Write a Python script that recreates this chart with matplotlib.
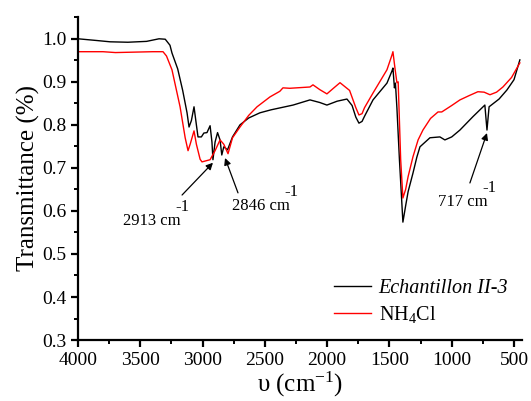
import matplotlib
matplotlib.use("Agg")
import matplotlib.pyplot as plt
from matplotlib.ticker import MultipleLocator

plt.rcParams["font.family"] = ["Liberation Serif", "DejaVu Serif"]
plt.rcParams["mathtext.fontset"] = "custom"
plt.rcParams["mathtext.rm"] = "Liberation Serif"
plt.rcParams["mathtext.it"] = "Liberation Serif:italic"

# Echantillon II-3 (black)
wn_ech = [4000, 3850, 3743, 3600, 3450, 3350, 3300, 3262, 3246, 3200, 3160, 3125,
          3109, 3090, 3069, 3050, 3037, 3010, 2990, 2965, 2940, 2925, 2917, 2900,
          2880, 2860, 2846, 2830, 2800, 2760, 2700, 2630, 2540, 2450, 2274, 2138,
          2060, 2002, 1920, 1841, 1800, 1770, 1745, 1720, 1700, 1632, 1520, 1480,
          1472, 1460, 1452, 1440, 1420, 1392, 1370, 1350, 1311, 1280, 1255, 1175,
          1095, 1055, 1000, 934, 830, 734, 717, 700, 620, 557, 500, 453]
t_ech = [1.000, 0.996, 0.993, 0.992, 0.994, 1.000, 0.999, 0.985, 0.967, 0.930, 0.880, 0.828,
         0.795, 0.810, 0.842, 0.800, 0.772, 0.772, 0.781, 0.782, 0.798, 0.760, 0.719, 0.760,
         0.782, 0.765, 0.730, 0.749, 0.742, 0.772, 0.800, 0.816, 0.828, 0.835, 0.846, 0.858,
         0.852, 0.846, 0.855, 0.860, 0.845, 0.818, 0.804, 0.808, 0.820, 0.858, 0.897, 0.925,
         0.932, 0.886, 0.897, 0.839, 0.720, 0.574, 0.612, 0.645, 0.688, 0.725, 0.749, 0.770,
         0.772, 0.765, 0.772, 0.788, 0.819, 0.846, 0.788, 0.842, 0.860, 0.881, 0.905, 0.951]

# NH4Cl (red)
wn_nh4 = [4000, 3800, 3700, 3400, 3318, 3290, 3246, 3181, 3140, 3117, 3100, 3069,
          3050, 3020, 3005, 2940, 2900, 2860, 2830, 2796, 2760, 2700, 2630, 2563, 2459,
          2380, 2355, 2300, 2138, 2114, 2060, 2002, 1950, 1897, 1820, 1770, 1745, 1720,
          1700, 1632, 1520, 1480, 1472, 1455, 1440, 1430, 1410, 1392, 1370, 1350, 1311,
          1270, 1231, 1170, 1110, 1080, 1000, 934, 860, 790, 740, 693, 640, 589, 520, 453]
t_nh4 = [0.970, 0.970, 0.968, 0.970, 0.970, 0.960, 0.928, 0.842, 0.770, 0.740, 0.755, 0.786,
         0.755, 0.720, 0.714, 0.719, 0.740, 0.765, 0.755, 0.733, 0.770, 0.795, 0.822, 0.842, 0.865,
         0.878, 0.886, 0.885, 0.888, 0.893, 0.882, 0.872, 0.885, 0.898, 0.880, 0.840, 0.823, 0.826,
         0.840, 0.874, 0.928, 0.962, 0.970, 0.930, 0.898, 0.900, 0.720, 0.630, 0.650, 0.680, 0.726,
         0.765, 0.788, 0.815, 0.830, 0.830, 0.845, 0.858, 0.868, 0.877, 0.876, 0.870, 0.876, 0.888, 0.910, 0.944]

# annotations: text, arrow head (wn, T), arrow tail (wn, T), text join point (wn, T)
notes = [
    ("2913 cm", (2917, 0.712), (3165, 0.637), (3173, 0.577)),
    ("2846 cm", (2820, 0.723), (2716, 0.642), (2298, 0.612)),
    ("717 cm", (717, 0.781), (854, 0.665), (709, 0.621)),
]

fig = plt.figure(figsize=(5.31, 4.01), dpi=100)
ax = fig.add_axes([0.147, 0.152, 0.836, 0.806])

ax.plot(wn_ech, t_ech, color="black", lw=1.0, label="Echantillon II-3")
ax.plot(wn_nh4, t_nh4, color="red", lw=1.0, label=r"NH$_4$Cl")

for label, head, tail, pos in notes:
    ax.annotate("", xy=head, xytext=tail,
                arrowprops=dict(arrowstyle="-|>", color="black", lw=0.9,
                                mutation_scale=10, shrinkA=0, shrinkB=0))
    ax.text(pos[0], pos[1], label, fontsize=12, ha="right", va="center")
    ax.annotate("-1", xy=pos, xytext=(-4, 10), textcoords="offset points",
                fontsize=12, ha="left", va="center")

ax.set_xlim(4000, 436)
ax.set_ylim(0.3, 1.051)
ax.xaxis.set_major_locator(MultipleLocator(500))
ax.xaxis.set_minor_locator(MultipleLocator(250))
ax.yaxis.set_major_locator(MultipleLocator(0.1))
ax.yaxis.set_minor_locator(MultipleLocator(0.05))
ax.yaxis.set_major_formatter(matplotlib.ticker.FormatStrFormatter("%.1f"))

for side in ["top", "right"]:
    ax.spines[side].set_visible(False)
for side in ["left", "bottom"]:
    ax.spines[side].set_linewidth(1.6)
ax.tick_params(which="major", direction="out", length=5, width=1.6, labelsize=14)
ax.tick_params(which="minor", direction="out", length=3, width=1.4)

ax.set_xlabel(r"υ (cm$^{-1}$)", fontsize=18, labelpad=1)
ax.set_ylabel("Transmittance (%)", fontsize=18, labelpad=1)

leg = ax.legend(loc="lower right", frameon=False, fontsize=14.5, handlelength=1.8,
                bbox_to_anchor=(1.01, -0.01), labelspacing=0.3, handletextpad=0.4)
leg.get_texts()[0].set_style("italic")

fig.savefig("out.png", dpi=100)
